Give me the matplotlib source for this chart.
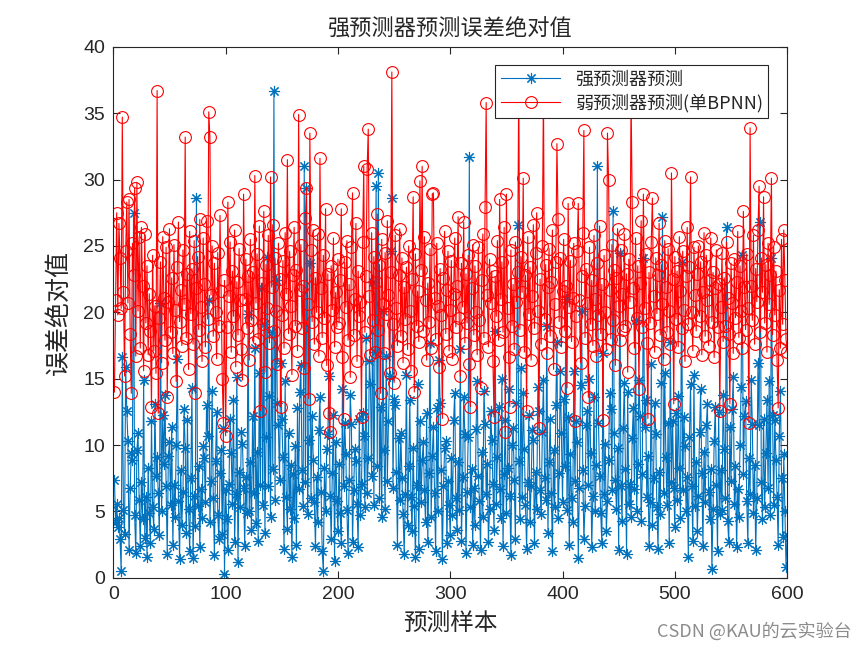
import numpy as np
import matplotlib
matplotlib.use("Agg")
from matplotlib import pyplot as plt

plt.rcParams['font.family'] = ['Noto Sans CJK SC', 'DejaVu Sans']

# weak predictor (single BPNN) absolute error, samples 1..600
weak_err = [
    14.0, 20.9, 27.5, 19.8, 26.7, 24.1, 20.3, 34.7, 21.5, 15.2, 24.6, 28.3, 20.7, 28.5, 18.4, 13.9, 25.2, 22.8, 29.4, 16.7,
    29.8, 20.1, 25.7, 17.3, 26.4, 22.0, 15.6, 25.9, 19.2, 23.5, 16.8, 21.4, 18.6, 12.9, 24.3, 17.1, 20.5, 15.4, 36.7, 12.4,
    19.6, 23.8, 16.2, 25.7, 21.1, 17.9, 24.9, 13.6, 20.8, 26.3, 18.5, 22.6, 16.9, 25.1, 20.2, 14.8, 23.4, 26.8, 19.3, 21.7,
    17.5, 24.7, 20.6, 33.2, 18.1, 22.9, 15.7, 26.1, 19.9, 23.3, 17.6, 25.4, 13.9, 21.8, 24.2, 18.7, 27.0, 20.4, 16.3, 25.6,
    22.1, 17.4, 26.9, 19.5, 35.1, 33.2, 21.3, 25.0, 18.2, 23.7, 20.0, 16.5, 24.5, 19.0, 27.3, 21.6, 15.0, 11.7, 22.4, 10.7,
    18.9, 28.3, 21.2, 25.3, 17.0, 23.1, 19.7, 26.2, 15.9, 22.3, 18.3, 24.8, 20.9, 17.2, 14.9, 28.9, 21.0, 24.0, 18.8, 22.7,
    16.4, 25.5, 19.4, 23.0, 17.8, 30.3, 20.7, 24.4, 18.0, 26.5, 12.6, 22.2, 19.1, 27.6, 15.5, 23.6, 20.3, 25.8, 17.7, 30.2,
    21.9, 26.6, 18.6, 24.1, 20.1, 16.1, 25.2, 22.5, 12.9, 19.8, 23.9, 17.3, 26.0, 21.4, 31.5, 18.4, 24.6, 20.5, 15.3, 22.8,
    26.4, 19.0, 23.2, 17.1, 34.9, 21.7, 25.1, 18.8, 22.0, 15.8, 27.1, 29.4, 20.6, 13.5, 33.5, 24.7, 19.3, 26.2, 17.6, 22.6,
    20.0, 25.9, 16.7, 31.6, 21.8, 18.1, 24.3, 19.6, 27.8, 16.0, 22.9, 12.4, 11.0, 23.5, 20.2, 25.6, 17.4, 21.5, 18.9, 24.0,
    19.2, 22.4, 27.8, 16.6, 12.0, 23.8, 20.4, 25.4, 17.9, 22.1, 15.1, 24.9, 29.0, 18.3, 21.0, 26.7, 16.3, 23.1, 19.7, 20.8,
    12.1, 25.3, 31.0, 18.5, 22.7, 30.8, 33.8, 21.2, 16.8, 26.0, 19.4, 24.2, 17.0, 22.3, 27.4, 18.7, 23.6, 13.9, 25.5, 20.6,
    16.9, 24.5, 19.9, 26.9, 21.3, 15.4, 23.0, 38.1, 19.1, 14.7, 25.8, 20.3, 17.5, 22.8, 26.3, 18.2, 24.1, 16.2, 21.9, 19.5,
    23.4, 17.2, 25.0, 20.1, 15.6, 22.5, 28.7, 14.0, 24.4, 19.0, 21.6, 17.8, 29.9, 23.2, 31.0, 18.6, 25.7, 20.9, 16.4, 22.2,
    19.3, 24.8, 17.3, 28.9, 29.0, 21.1, 18.0, 25.2, 20.5, 15.9, 23.3, 19.8, 12.0, 22.6, 26.1, 18.4, 21.7, 24.6, 17.1, 20.2,
    23.9, 16.5, 21.4, 25.6, 18.9, 22.0, 27.2, 19.6, 15.2, 23.7, 20.4, 26.8, 17.7, 22.9, 19.2, 24.3, 16.1, 12.9, 21.8, 25.1,
    18.3, 23.5, 20.0, 16.8, 24.9, 19.4, 14.3, 22.4, 25.9, 18.1, 27.9, 35.8, 21.3, 17.4, 24.0, 20.7, 23.1, 16.3, 12.1, 22.7,
    19.7, 25.4, 17.9, 28.5, 21.0, 23.8, 18.5, 26.4, 11.0, 28.9, 20.3, 16.6, 12.9, 24.7, 19.0, 22.1, 17.2, 25.3, 20.8, 23.0,
    37.5, 18.7, 24.2, 21.5, 30.1, 17.0, 22.8, 12.6, 25.7, 19.9, 23.4, 16.4, 21.2, 26.6, 18.8, 24.5, 27.5, 20.1, 11.3, 22.5,
    17.6, 25.0, 36.8, 19.5, 23.6, 16.9, 21.9, 24.8, 18.2, 22.3, 26.2, 15.7, 20.6, 23.8, 32.7, 27.0, 19.3, 24.1, 17.4, 21.6,
    25.5, 18.6, 22.0, 14.3, 28.2, 20.4, 23.9, 17.8, 21.1, 25.2, 11.8, 19.7, 24.6, 28.2, 20.9, 16.2, 22.7, 26.0, 33.7, 18.1,
    23.3, 20.7, 13.6, 24.9, 19.1, 22.4, 17.5, 25.8, 21.0, 16.7, 23.7, 19.8, 26.5, 18.4, 22.1, 11.9, 24.3, 20.0, 17.2, 33.5,
    30.0, 21.7, 18.0, 25.1, 19.4, 23.2, 16.0, 22.6, 26.3, 20.5, 17.9, 24.7, 21.4, 18.7, 25.9, 19.0, 22.9, 15.5, 24.0, 20.8,
    36.5, 28.3, 21.8, 17.3, 25.6, 19.6, 23.5, 14.2, 22.2, 26.9, 18.9, 28.9, 20.3, 24.4, 17.7, 12.0, 23.0, 19.2, 25.3, 28.6,
    21.2, 17.0, 24.1, 19.9, 22.8, 26.7, 18.3, 23.6, 20.6, 16.5, 25.4, 21.9, 18.5, 24.8, 20.1, 17.6, 30.5, 22.5, 13.1, 24.2,
    19.5, 23.1, 17.4, 25.7, 21.6, 18.8, 24.6, 20.2, 16.3, 22.7, 26.4, 19.1, 23.4, 30.2, 20.0, 17.1, 24.9, 21.3, 18.6, 22.9,
    25.0, 19.7, 23.8, 16.8, 21.5, 26.0, 18.2, 24.3, 20.9, 17.5, 22.4, 25.6, 19.3, 23.0, 16.6, 21.8, 24.7, 18.9, 22.1, 12.6,
    20.4, 24.5, 17.8, 22.6, 19.0, 25.3, 21.1, 18.4, 13.1, 23.7, 20.7, 16.9, 24.0, 19.6, 22.3, 26.1, 18.1, 23.5, 20.1, 17.3,
    27.6, 21.9, 18.7, 24.4, 20.3, 11.7, 33.9, 22.0, 19.4, 25.8, 17.6, 23.3, 20.8, 26.2, 29.5, 18.5, 24.1, 21.5, 28.7, 19.2,
    23.6, 17.0, 25.2, 20.6, 22.8, 30.1, 18.3, 24.9, 19.8, 23.1, 16.4, 12.8, 21.7, 17.3, 25.5, 19.1, 26.2, 22.4, 18.0, 17.0,
]

# strong predictor absolute error, samples 1..600
strong_err = [
    7.4, 4.2, 5.6, 3.8, 4.5, 2.9, 0.5, 16.6, 5.1, 3.3, 15.9, 12.6, 10.3, 2.1, 6.8, 9.4, 8.9, 27.5, 4.7, 1.9,
    9.6, 10.9, 5.9, 2.4, 7.2, 4.4, 14.9, 3.0, 6.1, 1.6, 8.3, 4.9, 2.6, 11.8, 5.3, 3.7, 13.1, 7.7, 9.1, 6.4,
    3.2, 20.7, 5.0, 12.3, 8.6, 13.8, 6.9, 1.8, 9.2, 10.2, 5.5, 11.4, 2.5, 7.0, 4.6, 10.0, 16.5, 5.8, 1.4, 8.1,
    4.0, 6.5, 12.7, 9.8, 3.4, 11.9, 5.2, 2.0, 7.5, 14.3, 1.5, 6.2, 3.9, 28.6, 5.4, 8.4, 2.3, 6.7, 4.5, 9.9,
    9.0, 5.7, 13.0, 10.7, 20.9, 4.2, 7.3, 14.1, 6.0, 1.7, 8.8, 12.5, 4.7, 2.9, 7.9, 9.6, 3.3, 11.3, 0.3, 6.6,
    4.4, 2.1, 7.1, 12.0, 9.4, 5.6, 13.4, 2.7, 6.3, 15.1, 1.2, 8.0, 5.3, 11.0, 10.1, 6.8, 2.4, 7.6, 4.9, 19.9,
    5.0, 8.7, 3.6, 12.2, 6.4, 17.3, 4.1, 9.5, 2.8, 15.4, 7.0, 21.8, 5.5, 19.1, 3.4, 10.6, 24.2, 6.9, 13.7, 4.6,
    18.5, 8.2, 36.7, 5.9, 22.4, 13.2, 11.5, 7.4, 16.2, 12.0, 9.1, 2.2, 14.8, 6.1, 3.7, 10.9, 5.2, 8.5, 1.6, 7.8,
    4.5, 9.9, 2.5, 12.8, 6.7, 14.0, 16.0, 8.1, 5.4, 31.0, 7.2, 29.4, 4.8, 10.4, 23.7, 6.0, 12.2, 8.9, 5.7, 2.4,
    7.6, 4.2, 11.1, 13.6, 6.5, 2.0, 0.5, 8.3, 5.0, 9.7, 10.8, 15.2, 6.2, 2.9, 7.9, 12.3, 1.3, 10.2, 5.8, 3.5,
    8.6, 4.9, 2.6, 14.2, 6.9, 11.7, 9.3, 5.1, 1.9, 7.4, 13.8, 11.6, 2.7, 6.6, 9.7, 8.8, 5.6, 2.3, 12.0, 4.7,
    7.1, 12.4, 10.7, 5.3, 18.1, 6.4, 9.0, 16.3, 14.6, 7.7, 22.3, 5.5, 17.0, 29.5, 8.4, 30.5, 6.0, 12.9, 4.6, 20.1,
    9.6, 5.2, 16.7, 7.3, 11.8, 15.2, 24.6, 28.6, 6.8, 13.5, 13.0, 8.0, 2.5, 10.5, 5.9, 10.9, 7.5, 4.8, 1.8, 6.3,
    15.3, 4.0, 8.4, 13.4, 6.1, 3.5, 9.8, 5.4, 1.6, 7.0, 14.6, 2.2, 11.8, 5.7, 8.9, 10.2, 6.6, 4.2, 12.4, 2.7,
    7.9, 17.7, 4.6, 9.2, 11.4, 6.4, 2.0, 12.8, 5.0, 16.4, 13.2, 8.1, 1.4, 6.9, 9.8, 10.3, 2.6, 7.3, 5.5, 3.2,
    9.0, 4.7, 11.9, 13.9, 6.0, 3.6, 8.7, 5.1, 17.2, 2.8, 7.6, 13.6, 10.8, 1.9, 6.5, 10.6, 31.7, 5.3, 8.2, 2.5,
    6.8, 4.0, 11.2, 14.8, 7.7, 5.8, 2.1, 9.5, 4.6, 14.1, 11.6, 6.3, 8.6, 2.7, 5.2, 12.6, 10.4, 7.1, 3.6, 18.6,
    5.6, 9.1, 12.9, 6.7, 4.5, 15.0, 2.4, 7.8, 11.9, 4.9, 8.3, 14.2, 6.2, 1.7, 10.0, 11.3, 7.4, 2.9, 13.2, 26.6,
    8.8, 4.4, 15.8, 6.1, 13.9, 9.7, 5.5, 2.2, 7.2, 12.3, 4.2, 6.9, 11.1, 10.4, 2.6, 8.0, 5.2, 14.4, 12.6, 6.6,
    4.8, 11.0, 14.9, 7.5, 5.9, 19.0, 3.4, 8.7, 12.0, 6.4, 2.0, 9.6, 5.3, 13.0, 17.8, 4.5, 7.9, 15.6, 10.9, 5.7,
    13.5, 8.4, 21.0, 5.1, 12.1, 2.5, 9.3, 6.0, 4.2, 15.6, 7.3, 11.8, 10.2, 1.5, 6.8, 14.5, 20.1, 8.1, 2.9, 5.4,
    11.5, 12.6, 7.0, 15.0, 9.4, 2.3, 6.2, 13.6, 5.0, 8.5, 31.0, 11.7, 7.7, 4.9, 2.6, 16.9, 6.3, 10.1, 3.5, 5.8,
    8.9, 13.9, 12.7, 6.6, 27.6, 10.9, 7.4, 5.2, 9.8, 2.1, 24.5, 6.9, 4.3, 11.3, 14.7, 8.2, 1.8, 14.0, 5.6, 7.1,
    4.6, 10.5, 12.8, 6.7, 19.4, 5.0, 8.6, 14.9, 12.2, 4.3, 7.8, 24.1, 11.4, 13.4, 6.1, 9.2, 2.4, 5.7, 16.1, 4.0,
    7.5, 13.2, 10.8, 5.3, 2.2, 8.0, 4.8, 14.7, 27.2, 6.4, 15.4, 9.1, 5.5, 11.7, 2.6, 17.8, 7.2, 11.8, 6.8, 3.8,
    12.4, 5.9, 13.7, 8.3, 4.5, 23.8, 6.6, 12.1, 9.9, 5.0, 7.6, 1.6, 10.6, 14.6, 6.9, 2.8, 15.3, 5.4, 8.7, 3.5,
    6.2, 11.0, 14.2, 7.9, 2.4, 9.5, 5.7, 11.5, 13.1, 6.5, 4.4, 8.2, 0.7, 5.2, 10.3, 12.9, 7.0, 2.0, 12.5, 4.8,
    8.1, 5.1, 13.8, 9.7, 6.0, 26.4, 4.3, 2.7, 11.4, 7.3, 12.7, 15.1, 5.6, 8.4, 2.3, 6.7, 4.6, 10.0, 14.4, 24.3,
    7.8, 12.2, 13.3, 5.8, 2.6, 9.0, 6.3, 14.9, 11.6, 4.9, 8.5, 2.1, 6.0, 16.2, 11.5, 26.8, 7.2, 4.4, 12.0, 5.3,
    9.4, 13.4, 6.8, 14.8, 4.7, 24.1, 12.3, 5.5, 11.9, 8.9, 6.1, 2.5, 10.7, 14.1, 7.5, 3.1, 9.3, 5.0, 0.8, 3.2,
]

samples = np.arange(1, len(strong_err) + 1)

fig = plt.figure(figsize=(8.65, 6.5), dpi=100)
ax = fig.add_axes([0.131, 0.111, 0.779, 0.817])

# MATLAB style asterisk: 8 spokes
ax.plot(samples, strong_err, color='#0072BD', lw=0.8, marker=(8, 2, 0),
        ms=8, mew=0.8, label='强预测器预测')
ax.plot(samples, weak_err, color='#FF0000', lw=0.8, marker='o',
        ms=8.5, mew=0.8, mfc='none', label='弱预测器预测(单BPNN)')

ax.set_xlim(0, 600)
ax.set_ylim(0, 40)
ax.set_xticks(np.arange(0, 601, 100))
ax.set_yticks(np.arange(0, 41, 5))
ax.tick_params(direction='in', top=True, right=True, length=5,
               width=0.8, colors='#262626', labelsize=14, pad=6)
for lab in ax.get_xticklabels() + ax.get_yticklabels():
    lab.set_fontfamily('Liberation Sans')
for s in ax.spines.values():
    s.set_color('#262626')
    s.set_linewidth(0.8)

ax.set_title('强预测器预测误差绝对值', fontsize=16, color='#262626', pad=8)
ax.set_xlabel('预测样本', fontsize=17, color='#262626', labelpad=6)
ax.set_ylabel('误差绝对值', fontsize=18, color='#262626', labelpad=8)

leg = ax.legend(loc='upper right', bbox_to_anchor=(0.972, 0.966),
                fontsize=13, fancybox=False, framealpha=1,
                edgecolor='#262626', handlelength=3.3, labelspacing=0.3,
                borderpad=0.3, borderaxespad=0)
leg.get_frame().set_linewidth(0.8)
for t in leg.get_texts():
    t.set_color('#262626')

fig.text(0.985, 0.028, 'CSDN @KAU的云实验台', ha='right', va='center',
         fontsize=13, color='#8c8c8c')

fig.savefig('out.png', dpi=100)
